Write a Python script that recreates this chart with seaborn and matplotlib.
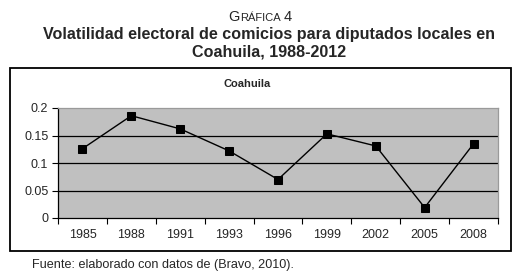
import pandas as pd
import numpy as np
import seaborn as sns
import matplotlib.pyplot as plt
from matplotlib.patches import Rectangle
from matplotlib.ticker import FixedLocator, FixedFormatter

# data
years = ['1985', '1988', '1991', '1993', '1996', '1999', '2002', '2005', '2008']
volatility = [0.126, 0.186, 0.162, 0.122, 0.070, 0.153, 0.131, 0.019, 0.135]
y_ticks = [0, 0.05, 0.1, 0.15, 0.2]
y_labels = ['0', '0.05', '0.1', '0.15', '0.2']

df = pd.DataFrame({'year': years, 'vol': volatility})

sns.set_style('white')
plt.rcParams['font.family'] = ['Liberation Sans', 'DejaVu Sans']

fig = plt.figure(figsize=(5.21, 2.77), dpi=100)
ax = fig.add_axes([58 / 521, 1 - 218 / 277, 440 / 521, 110 / 277])
ax.set_facecolor('#c0c0c0')

sns.lineplot(data=df, x='year', y='vol', ax=ax, color='black', lw=1.0,
             marker='s', markersize=6, markeredgecolor='black', sort=False)

ax.set_xlim(-0.5, len(years) - 0.5)
ax.set_ylim(0, 0.2)
ax.set_xlabel('')
ax.set_ylabel('')

# horizontal gridlines
for v in y_ticks[1:-1]:
    ax.axhline(v, color='black', lw=0.9, zorder=0.5)

ax.yaxis.set_major_locator(FixedLocator(y_ticks))
ax.yaxis.set_major_formatter(FixedFormatter(y_labels))
ax.set_xticks(range(len(years)))
ax.set_xticklabels(years)
ax.xaxis.set_minor_locator(FixedLocator(np.arange(-0.5, len(years), 1.0)))
ax.tick_params(axis='x', which='major', length=0, pad=8)
ax.tick_params(axis='x', which='minor', length=4, width=0.8, color='black', direction='out', bottom=True)
ax.tick_params(axis='y', length=4, width=0.8, color='black', direction='out', left=True, pad=3)
for lab in ax.get_xticklabels() + ax.get_yticklabels():
    lab.set_family(['Liberation Sans Narrow', 'Liberation Sans'])
    lab.set_fontsize(9)

for side in ['left', 'bottom']:
    ax.spines[side].set_color('black')
    ax.spines[side].set_linewidth(0.9)
for side in ['top', 'right']:
    ax.spines[side].set_color('#9a9a9a')
    ax.spines[side].set_linewidth(0.9)

# chart frame
fig.patches.append(Rectangle((10 / 521, 1 - 251 / 277), 501 / 521, 183 / 277,
                             transform=fig.transFigure, fill=False,
                             edgecolor='black', lw=1.3))

fig.text(247 / 521, 1 - 84 / 277, 'Coahuila', ha='center', va='center',
         fontsize=8, fontweight='bold')

# heading with small caps
fig.text(240 / 521, 1 - 17 / 277, 'G', ha='right', va='center', fontsize=10.5)
fig.text(240 / 521, 1 - 17.8 / 277, 'RÁFICA', ha='left', va='center', fontsize=8)
fig.text(284 / 521, 1 - 17 / 277, '4', ha='left', va='center', fontsize=10.5)
fig.text(269 / 521, 1 - 35 / 277, 'Volatilidad electoral de comicios para diputados locales en',
         ha='center', va='center', fontsize=11.6, fontweight='bold')
fig.text(269 / 521, 1 - 52 / 277, 'Coahuila, 1988-2012',
         ha='center', va='center', fontsize=11.6, fontweight='bold')

fig.text(32 / 521, 1 - 265 / 277, 'Fuente: elaborado con datos de (Bravo, 2010).',
         ha='left', va='center', fontsize=9.1)

fig.savefig('out.png', dpi=100)
